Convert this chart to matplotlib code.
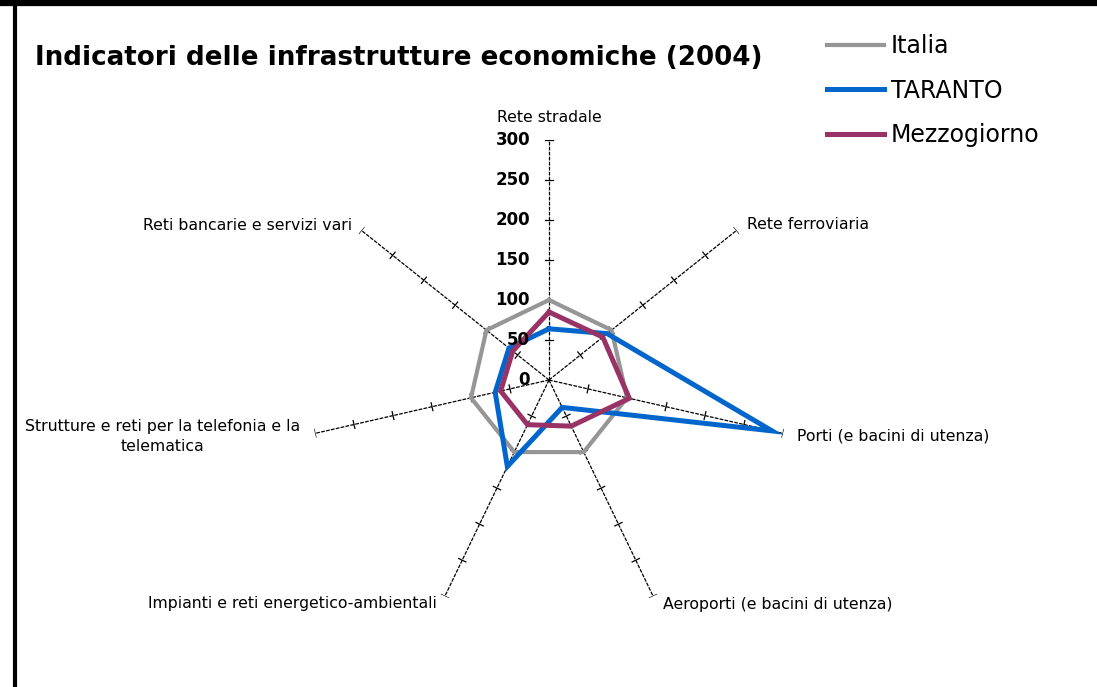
import numpy as np
import matplotlib
matplotlib.use('Agg')
import matplotlib.pyplot as plt
from matplotlib.transforms import offset_copy
from matplotlib.lines import Line2D

# data
categories = ['Rete stradale', 'Rete ferroviaria', 'Porti (e bacini di utenza)',
              'Aeroporti (e bacini di utenza)', 'Impianti e reti energetico-ambientali',
              'Strutture e reti per la telefonia e la\ntelematica', 'Reti bancarie e servizi vari']
italia = [100, 100, 100, 100, 100, 100, 100]
taranto = [64, 93, 286, 38, 120, 69, 64]
mezzogiorno = [85, 86, 103, 64, 62, 62, 58]
radial_ticks = [0, 50, 100, 150, 200, 250, 300]

series = [('Italia', italia, '#969696', 3.0),
          ('TARANTO', taranto, '#0066CC', 3.6),
          ('Mezzogiorno', mezzogiorno, '#993366', 3.6)]

W, H = 1097, 687
fig = plt.figure(figsize=(W / 100, H / 100), dpi=100)
fig.patch.set_facecolor('white')

# polar axes: centre at (549, 380) px, 300 -> 240 px
cx, cy, R = 549, 380, 240
ax = fig.add_axes([(cx - R) / W, (H - cy - R) / H, 2 * R / W, 2 * R / H], projection='polar')
ax.set_theta_zero_location('N')
ax.set_theta_direction(-1)
ax.set_ylim(0, 300)
ax.axis('off')

n = len(categories)
angles = np.arange(n) * 2 * np.pi / n

# spokes with tick marks
for a in angles:
    ax.plot([a, a], [0, 300], color='black', lw=0.9, ls=(0, (3, 1)), zorder=1)
    for r in radial_ticks[1:]:
        d = np.arctan(5.0 / r)
        rr = np.hypot(r, 5.0)
        ax.plot([a - d, a + d], [rr, rr], color='black', lw=0.9, zorder=1)

# series
for name, vals, col, lw in series:
    v = vals + vals[:1]
    th = list(angles) + [angles[0]]
    ax.plot(th, v, color=col, lw=lw, label=name, solid_joinstyle='miter', zorder=3)

# radial labels on the top spoke
tr = offset_copy(ax.transData, fig=fig, x=-19, y=0, units='dots')
for r in radial_ticks:
    ax.text(0, r, str(r), transform=tr, ha='right', va='center',
            fontsize=12, fontweight='bold', zorder=4)

# category labels
label_pos = [(0, 22, 'center', 'center'),
             (10, 6, 'left', 'center'),
             (14, -3, 'left', 'center'),
             (10, -8, 'left', 'center'),
             (-8, -7, 'right', 'center'),
             (-15, -3, 'right', 'center'),
             (-9, 5, 'right', 'center')]
for a, lab, (dx, dy, ha, va) in zip(angles, categories, label_pos):
    t = offset_copy(ax.transData, fig=fig, x=dx, y=dy, units='dots')
    ax.text(a, 300, lab, transform=t, ha=ha, va=va, fontsize=11.3,
            multialignment='center', linespacing=1.35, zorder=4)

# title and legend
fig.text(35 / W, 1 - 58 / H, 'Indicatori delle infrastrutture economiche (2004)',
         fontsize=18.8, fontweight='bold', ha='left', va='center')
fig.legend(loc='upper left', bbox_to_anchor=(827 / W, 1 - 34 / H), frameon=False,
           fontsize=17, handlelength=2.4, handletextpad=0.3, labelspacing=0.87,
           borderpad=0, borderaxespad=0)

# frame of the original picture
fig.add_artist(Line2D([15 / W, 15 / W], [0, 1], color='black', lw=3))
fig.add_artist(Line2D([0, 1], [1 - 3 / H, 1 - 3 / H], color='black', lw=4.5))

fig.savefig('out.png', dpi=100)
